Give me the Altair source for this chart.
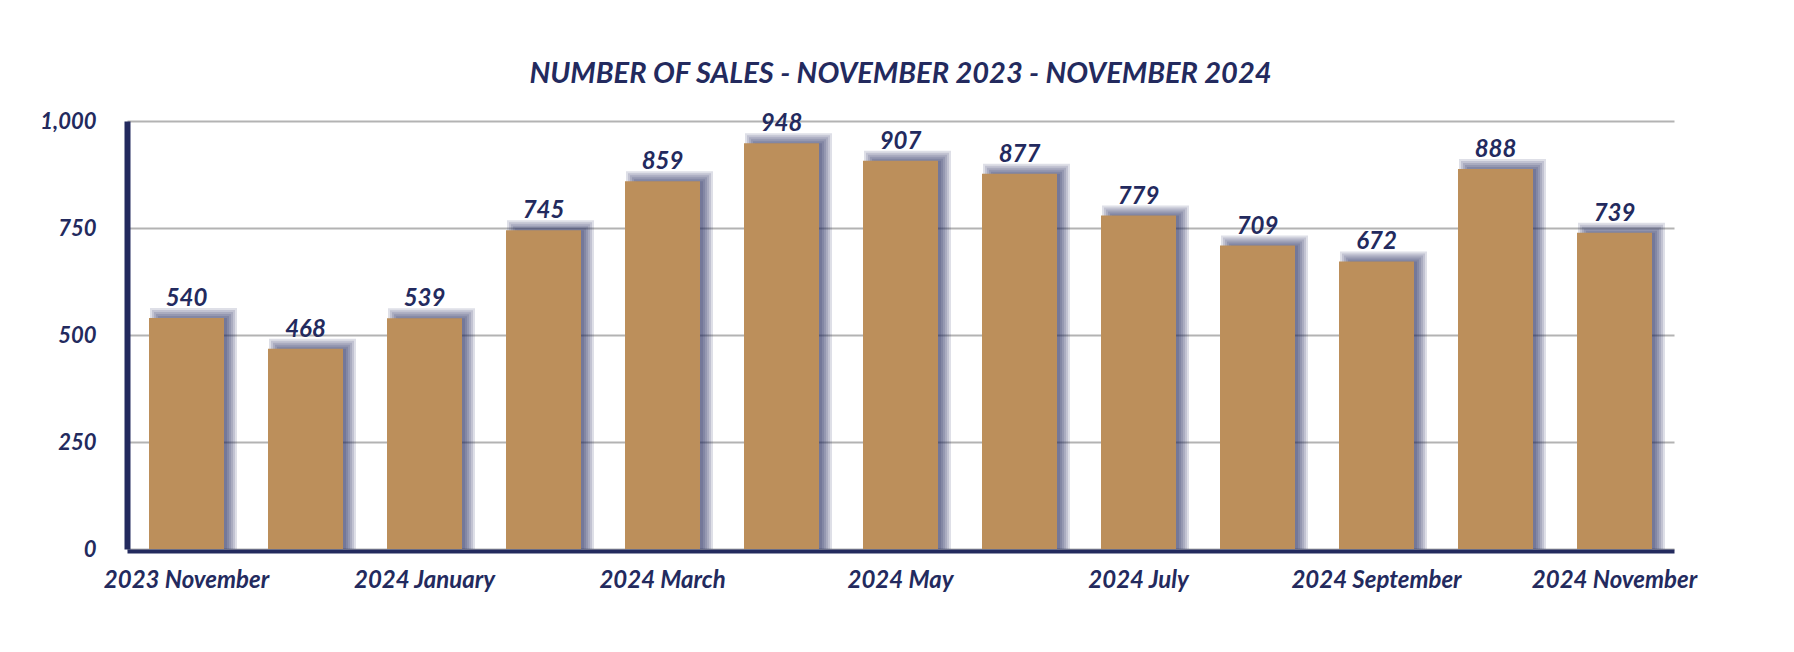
import altair as alt
import pandas as pd

months = ["2023 November", "2023 December", "2024 January", "2024 February",
          "2024 March", "2024 April", "2024 May", "2024 June", "2024 July",
          "2024 August", "2024 September", "2024 October", "2024 November"]
sales = [540, 468, 539, 745, 859, 948, 907, 877, 779, 709, 672, 888, 739]
x_tick_labels = ["2023 November", "2024 January", "2024 March", "2024 May",
                 "2024 July", "2024 September", "2024 November"]
y_ticks = [0, 250, 500, 750, 1000]
title_text = "NUMBER OF SALES - NOVEMBER 2023 - NOVEMBER 2024"

NAVY = "#232a5e"
TAN = "#bc8f5b"
GRID = "#b3b3b3"
FONT = "Lato"

df = pd.DataFrame({"month": months, "sales": sales})

x = alt.X("month:N", sort=months,
          scale=alt.Scale(paddingInner=0, paddingOuter=0),
          axis=alt.Axis(values=x_tick_labels, title=None, labelAngle=0,
                        labelFont=FONT, labelFontSize=24, labelFontWeight="bold",
                        labelFontStyle="italic", labelColor=NAVY, labelPadding=17,
                        ticks=False, tickSize=0, grid=False, offset=2,
                        domainColor=NAVY, domainWidth=4))
y = alt.Y("sales:Q", stack=None,
          scale=alt.Scale(domain=[0, 1000], nice=False),
          axis=alt.Axis(values=y_ticks, format=",d", title=None,
                        labelFont=FONT, labelFontSize=22, labelFontWeight="bold",
                        labelFontStyle="italic", labelColor=NAVY, labelPadding=31,
                        ticks=False, tickSize=0, grid=True, gridColor=GRID,
                        gridWidth=2, domainColor=NAVY, domainWidth=6))

base = alt.Chart(df).encode(x=x, y=y)

layers = []
for e in [6, 4, 2, 0, -2, -4]:
    layers.append(base.mark_bar(width=75 + 2 * e, xOffset=7, yOffset=-4 - e,
                                y2Offset=min(-4 + e, 0), color=NAVY, opacity=0.15))
bars = base.mark_bar(width=75, color=TAN)
labels = base.mark_text(font=FONT, fontSize=24, fontWeight="bold", fontStyle="italic",
                        color=NAVY, baseline="alphabetic", dy=-12).encode(text="sales:Q")

chart = alt.layer(*layers, bars, labels).properties(
    width=1547, height=428,
    title=alt.TitleParams(title_text, font=FONT, fontSize=29, fontWeight="bold",
                          fontStyle="italic", color=NAVY, anchor="middle",
                          baseline="alphabetic", offset=-2),
    autosize=alt.AutoSizeParams(type="none"),
    padding={"left": 127, "top": 121, "right": 120, "bottom": 103},
    background="white",
).configure_view(stroke=None)

chart.save("out.html", embed_options={"renderer": "svg", "actions": False})
